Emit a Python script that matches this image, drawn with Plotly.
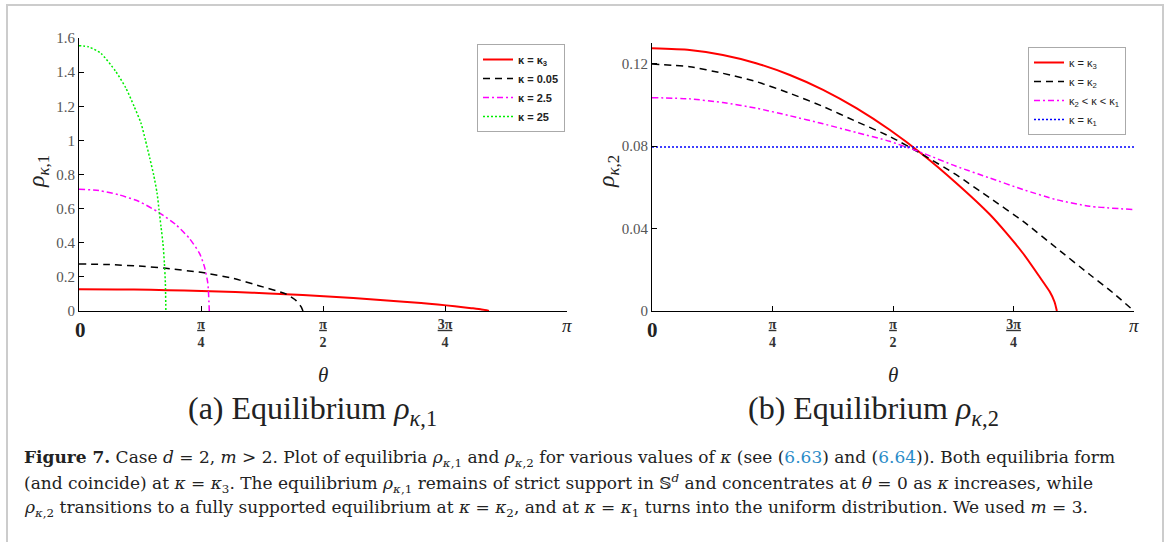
import numpy as np
import plotly.graph_objects as go

PI = np.pi

# ---------------- data (theta given as fraction of pi) ----------------
# shared kappa = kappa_3 curve (both equilibria coincide)
red_t = [0, 0.078, 0.147, 0.216, 0.286, 0.355, 0.424, 0.493, 0.562, 0.631, 0.701, 0.735, 0.770, 0.804, 0.825, 0.835, 0.840]
red_v = [0.1274, 0.1266, 0.1242, 0.1202, 0.1145, 0.1073, 0.0984, 0.0879, 0.0758, 0.0621, 0.0468, 0.0379, 0.0279, 0.0166, 0.0094, 0.0045, 0.0]

# panel (a): rho_{kappa,1}
k005_t = [0, 0.062, 0.130, 0.178, 0.253, 0.315, 0.370, 0.425, 0.445, 0.455, 0.459]
k005_v = [0.276, 0.272, 0.262, 0.250, 0.225, 0.192, 0.147, 0.098, 0.061, 0.025, 0.0]
k25_t = [0, 0.041, 0.082, 0.123, 0.164, 0.199, 0.226, 0.247, 0.257, 0.264, 0.267]
k25_v = [0.714, 0.706, 0.681, 0.642, 0.577, 0.505, 0.426, 0.338, 0.260, 0.162, 0.0]
k250_t = [0, 0.020, 0.045, 0.075, 0.096, 0.113, 0.127, 0.136, 0.145, 0.153, 0.160, 0.164, 0.168, 0.172, 0.175, 0.177, 0.178]
k250_v = [1.555, 1.548, 1.510, 1.405, 1.307, 1.199, 1.101, 1.003, 0.896, 0.798, 0.690, 0.593, 0.495, 0.397, 0.280, 0.162, 0.0]

# panel (b): rho_{kappa,2}
k2_t = [0, 0.078, 0.147, 0.216, 0.286, 0.355, 0.424, 0.493, 0.562, 0.631, 0.701, 0.770, 0.839, 0.908, 0.956, 1.0]
k2_v = [0.1198, 0.1185, 0.1153, 0.1113, 0.1056, 0.0992, 0.0919, 0.0847, 0.0758, 0.0661, 0.0548, 0.0435, 0.0306, 0.0177, 0.0089, 0.0]
mid_t = [0, 0.078, 0.147, 0.216, 0.286, 0.355, 0.424, 0.493, 0.562, 0.631, 0.701, 0.770, 0.839, 0.908, 1.0]
mid_v = [0.1035, 0.1029, 0.1011, 0.0984, 0.0947, 0.0908, 0.0866, 0.0823, 0.0766, 0.0702, 0.0645, 0.0589, 0.0540, 0.0508, 0.0492]
k1_t = [0, 1.0]
k1_v = [0.0796, 0.0796]

xtick_vals = [0, 0.25, 0.5, 0.75, 1.0]
xtick_text = ["", "<b><u>π</u><br>4</b>", "<b><u>π</u><br>2</b>", "<b><u>3π</u><br>4</b>", ""]
ytick_a = [0, 0.2, 0.4, 0.6, 0.8, 1, 1.2, 1.4, 1.6]
ytick_a_text = ["0", "0.2", "0.4", "0.6", "0.8", "1", "1.2", "1.4", "1.6"]
ytick_b = [0, 0.04, 0.08, 0.12]
ytick_b_text = ["0", "0.04", "0.08", "0.12"]

W, H = 1167, 542
SERIF = "Liberation Serif"
CAPSERIF = "DejaVu Serif"
SANS = "Liberation Sans"
TXT = "#222222"


def px(x):
    return x / W


def py(y):
    return 1 - y / H


def th(t):
    return [v * PI for v in t]


fig = go.Figure()

SPL = dict(shape="spline", smoothing=0.6)

# panel (a)
fig.add_trace(go.Scatter(x=th(red_t), y=red_v, mode="lines", name="<b>κ = κ<sub>3</sub></b>",
                         line=dict(color="#ff0000", width=2, **SPL), xaxis="x", yaxis="y", legend="legend"))
fig.add_trace(go.Scatter(x=th(k005_t), y=k005_v, mode="lines", name="<b>κ = 0.05</b>",
                         line=dict(color="#000000", width=1.5, dash="7px,5px", **SPL), xaxis="x", yaxis="y", legend="legend"))
fig.add_trace(go.Scatter(x=th(k25_t), y=k25_v, mode="lines", name="<b>κ = 2.5</b>",
                         line=dict(color="#ff00ff", width=1.5, dash="6px,3px,2px,3px", **SPL), xaxis="x", yaxis="y", legend="legend"))
fig.add_trace(go.Scatter(x=th(k250_t), y=k250_v, mode="lines", name="<b>κ = 25</b>",
                         line=dict(color="#00ee00", width=1.5, dash="2px,2px", **SPL), xaxis="x", yaxis="y", legend="legend"))

# panel (b)
fig.add_trace(go.Scatter(x=th(red_t), y=red_v, mode="lines", name="κ = κ<sub>3</sub>",
                         line=dict(color="#ff0000", width=2, **SPL), xaxis="x2", yaxis="y2", legend="legend2"))
fig.add_trace(go.Scatter(x=th(k2_t), y=k2_v, mode="lines", name="κ = κ<sub>2</sub>",
                         line=dict(color="#000000", width=1.5, dash="7px,5px", **SPL), xaxis="x2", yaxis="y2", legend="legend2"))
fig.add_trace(go.Scatter(x=th(mid_t), y=mid_v, mode="lines", name="κ<sub>2</sub> < κ < κ<sub>1</sub>",
                         line=dict(color="#ff00ff", width=1.5, dash="6px,3px,2px,3px", **SPL), xaxis="x2", yaxis="y2", legend="legend2"))
fig.add_trace(go.Scatter(x=th(k1_t), y=k1_v, mode="lines", name="κ = κ<sub>1</sub>",
                         line=dict(color="#0000ff", width=1.5, dash="2px,2px"), xaxis="x2", yaxis="y2", legend="legend2"))

common_x = dict(range=[0, PI], tickvals=[v * PI for v in xtick_vals], ticktext=xtick_text, automargin=False,
                ticks="inside", ticklen=5, tickcolor="black", showline=True, linecolor="black", linewidth=1,
                showgrid=False, zeroline=False, tickfont=dict(family=SERIF, size=14, color="#333333"))
common_y = dict(ticks="inside", ticklen=5, tickcolor="black", showline=True, linecolor="black", linewidth=1,
                automargin=False, showgrid=False, zeroline=False,
                tickfont=dict(family=SERIF, size=15, color="#555555"))

legend_common = dict(bgcolor="white", bordercolor="#aaaaaa", borderwidth=1,
                     font=dict(family=SANS, size=11, color=TXT),
                     xanchor="left", yanchor="top", itemwidth=30, tracegroupgap=0)

caption_font = dict(family=CAPSERIF, size=17, color=TXT)
L1 = ("<b>Figure 7.</b> Case <i>d</i> = 2, <i>m</i> > 2. Plot of equilibria <i>ρ</i><sub><i>κ</i>,1</sub> and "
      "<i>ρ</i><sub><i>κ</i>,2</sub> for various values of <i>κ</i> (see (<span style='color:#2a8bc8'>6.63</span>) and "
      "(<span style='color:#2a8bc8'>6.64</span>)). Both equilibria form")
L2 = ("(and coincide) at <i>κ</i> = <i>κ</i><sub>3</sub>. The equilibrium <i>ρ</i><sub><i>κ</i>,1</sub> remains of strict "
      "support in 𝕊<sup><i>d</i></sup> and concentrates at <i>θ</i> = 0 as <i>κ</i> increases, while")
L3 = ("<i>ρ</i><sub><i>κ</i>,2</sub> transitions to a fully supported equilibrium at <i>κ</i> = <i>κ</i><sub>2</sub>, "
      "and at <i>κ</i> = <i>κ</i><sub>1</sub> turns into the uniform distribution. We used <i>m</i> = 3.")

annotations = [
    # end tick labels of the theta axes
    dict(x=px(80), y=py(330), text="<b>0</b>", font=dict(family=SERIF, size=21, color=TXT)),
    dict(x=px(567), y=py(325), text="<i>π</i>", font=dict(family=SERIF, size=19, color=TXT)),
    dict(x=px(652), y=py(330), text="<b>0</b>", font=dict(family=SERIF, size=21, color=TXT)),
    dict(x=px(1134), y=py(325), text="<i>π</i>", font=dict(family=SERIF, size=19, color=TXT)),
    # axis titles
    dict(x=px(323), y=py(375), text="<i>θ</i>", font=dict(family=SERIF, size=21, color=TXT)),
    dict(x=px(893), y=py(375), text="<i>θ</i>", font=dict(family=SERIF, size=21, color=TXT)),
    dict(x=px(38), y=py(172), text="<i>ρ</i><sub><i>κ</i>,1</sub>", textangle=-90, font=dict(family=SERIF, size=24, color=TXT)),
    dict(x=px(608), y=py(172), text="<i>ρ</i><sub><i>κ</i>,2</sub>", textangle=-90, font=dict(family=SERIF, size=24, color=TXT)),
    # sub-captions
    dict(x=px(312), y=py(410), text="(a) Equilibrium <i>ρ</i><sub><i>κ</i>,1</sub>", font=dict(family=SERIF, size=32, color=TXT)),
    dict(x=px(873), y=py(410), text="(b) Equilibrium <i>ρ</i><sub><i>κ</i>,2</sub>", font=dict(family=SERIF, size=32, color=TXT)),
    # caption
    dict(x=px(22), y=py(458), text=L1, xanchor="left", font=caption_font),
    dict(x=px(22), y=py(483), text=L2, xanchor="left", font=caption_font),
    dict(x=px(22), y=py(508), text=L3, xanchor="left", font=caption_font),
]
for a in annotations:
    a.setdefault("xanchor", "center")
    a.update(xref="paper", yref="paper", yanchor="middle", showarrow=False)

fig.update_layout(
    width=W, height=H, autosize=False,
    margin=dict(l=0, r=0, t=0, b=0, pad=0, autoexpand=False),
    paper_bgcolor="white", plot_bgcolor="white",
    xaxis=dict(domain=[px(79), px(567)], anchor="y", **common_x),
    yaxis=dict(domain=[py(311), py(38)], anchor="x", range=[0, 1.6], tickvals=ytick_a, ticktext=ytick_a_text, **common_y),
    xaxis2=dict(domain=[px(652), px(1134)], anchor="y2", **common_x),
    yaxis2=dict(domain=[py(311), py(43)], anchor="x2", range=[0, 0.13], tickvals=ytick_b, ticktext=ytick_b_text, **common_y),
    legend=dict(x=px(477), y=py(44), **legend_common),
    legend2=dict(x=px(1028), y=py(47), **legend_common),
    annotations=annotations,
    shapes=[dict(type="rect", xref="paper", yref="paper", x0=px(7), x1=px(1163), y0=-0.05, y1=py(5),
                 line=dict(color="#cccccc", width=2), layer="below")],
    showlegend=True,
)

fig.write_html("out.html")
